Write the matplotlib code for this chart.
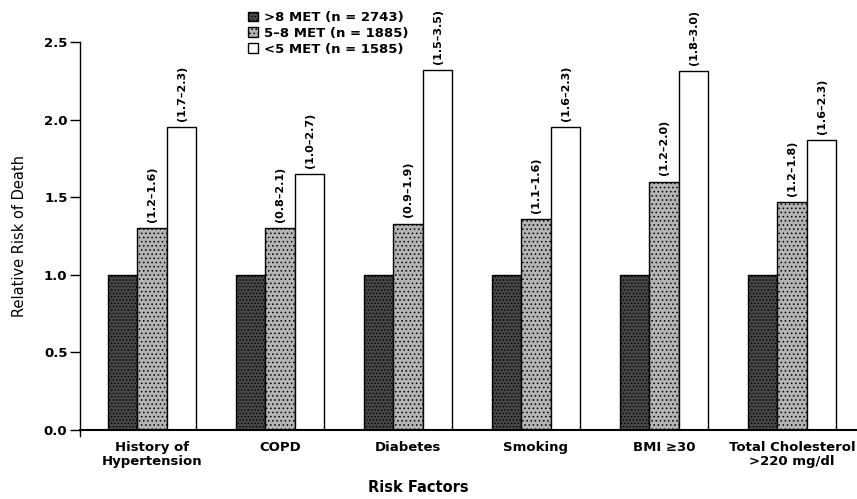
import numpy as np
import matplotlib
matplotlib.use('Agg')
import matplotlib.pyplot as plt
from matplotlib.patches import Patch

plt.rcParams['font.family'] = ['DejaVu Sans']
plt.rcParams['hatch.linewidth'] = 0.6

# relative risk of death by fitness level for each risk factor
factors = ['History of\nHypertension', 'COPD', 'Diabetes', 'Smoking',
           'BMI \u226530', 'Total Cholesterol\n>220 mg/dl']
high_met = [1.0, 1.0, 1.0, 1.0, 1.0, 1.0]
mid_met = [1.30, 1.30, 1.33, 1.36, 1.60, 1.47]
low_met = [1.95, 1.65, 2.32, 1.95, 2.31, 1.87]
mid_ci = ['(1.2\u20131.6)', '(0.8\u20132.1)', '(0.9\u20131.9)', '(1.1\u20131.6)',
          '(1.2\u20132.0)', '(1.2\u20131.8)']
low_ci = ['(1.7\u20132.3)', '(1.0\u20132.7)', '(1.5\u20133.5)', '(1.6\u20132.3)',
          '(1.8\u20133.0)', '(1.6\u20132.3)']
groups = ['>8 MET (n = 2743)', '5\u20138 MET (n = 1885)', '<5 MET (n = 1585)']

fig = plt.figure(figsize=(8.57, 4.99), dpi=100)
ax = fig.add_axes([80 / 857, 69 / 499, 800 / 857, 388 / 499])

x = np.arange(len(factors))
w = 0.228
step = 0.231

ax.bar(x - step, high_met, w, color='#474747', edgecolor='black', linewidth=1.0,
       hatch='.....')
ax.bar(x, mid_met, w, color='#b4b4b4', edgecolor='black', linewidth=1.0,
       hatch='....')
ax.bar(x + step, low_met, w, color='white', edgecolor='black', linewidth=1.0)

for i in range(len(factors)):
    ax.text(x[i], mid_met[i] + 0.04, mid_ci[i], rotation=90, ha='center', va='bottom',
            fontsize=8, fontweight='bold')
    ax.text(x[i] + step, low_met[i] + 0.04, low_ci[i], rotation=90, ha='center',
            va='bottom', fontsize=8, fontweight='bold')

ax.set_xlim(-0.5625, 5.6875)
ax.set_ylim(0, 2.5)
ax.set_yticks([0, 0.5, 1.0, 1.5, 2.0, 2.5])
ax.set_yticklabels(['0.0', '0.5', '1.0', '1.5', '2.0', '2.5'], fontsize=9.5, fontweight='bold')
ax.set_xticks(x)
ax.set_xticklabels(factors, fontsize=9.5, fontweight='bold', linespacing=1.05)
ax.tick_params(axis='x', length=0, pad=8)
ax.tick_params(axis='y', length=7, width=1, pad=2)
ax.spines['top'].set_visible(False)
ax.spines['right'].set_visible(False)
ax.spines['left'].set_linewidth(1.0)
ax.spines['bottom'].set_linewidth(1.5)
ax.spines['left'].set_bounds(-0.04, 2.5)

ax.set_ylabel('Relative Risk of Death', fontsize=10.5, labelpad=12)
fig.text(418 / 857, 1 - 488 / 499, 'Risk Factors', ha='center', va='center',
         fontsize=10.5, fontweight='bold')

handles = [Patch(facecolor='#474747', edgecolor='black', hatch='.....'),
           Patch(facecolor='#b4b4b4', edgecolor='black', hatch='....'),
           Patch(facecolor='white', edgecolor='black')]
leg = fig.legend(handles, groups, loc='upper left', bbox_to_anchor=(239 / 857, 1 - 2 / 499),
                 frameon=False, fontsize=9.5, handlelength=0.75, handleheight=0.75,
                 handletextpad=0.45, labelspacing=0.2, borderpad=0.2)
for t in leg.get_texts():
    t.set_fontweight('bold')

fig.savefig('out.png', dpi=100)
